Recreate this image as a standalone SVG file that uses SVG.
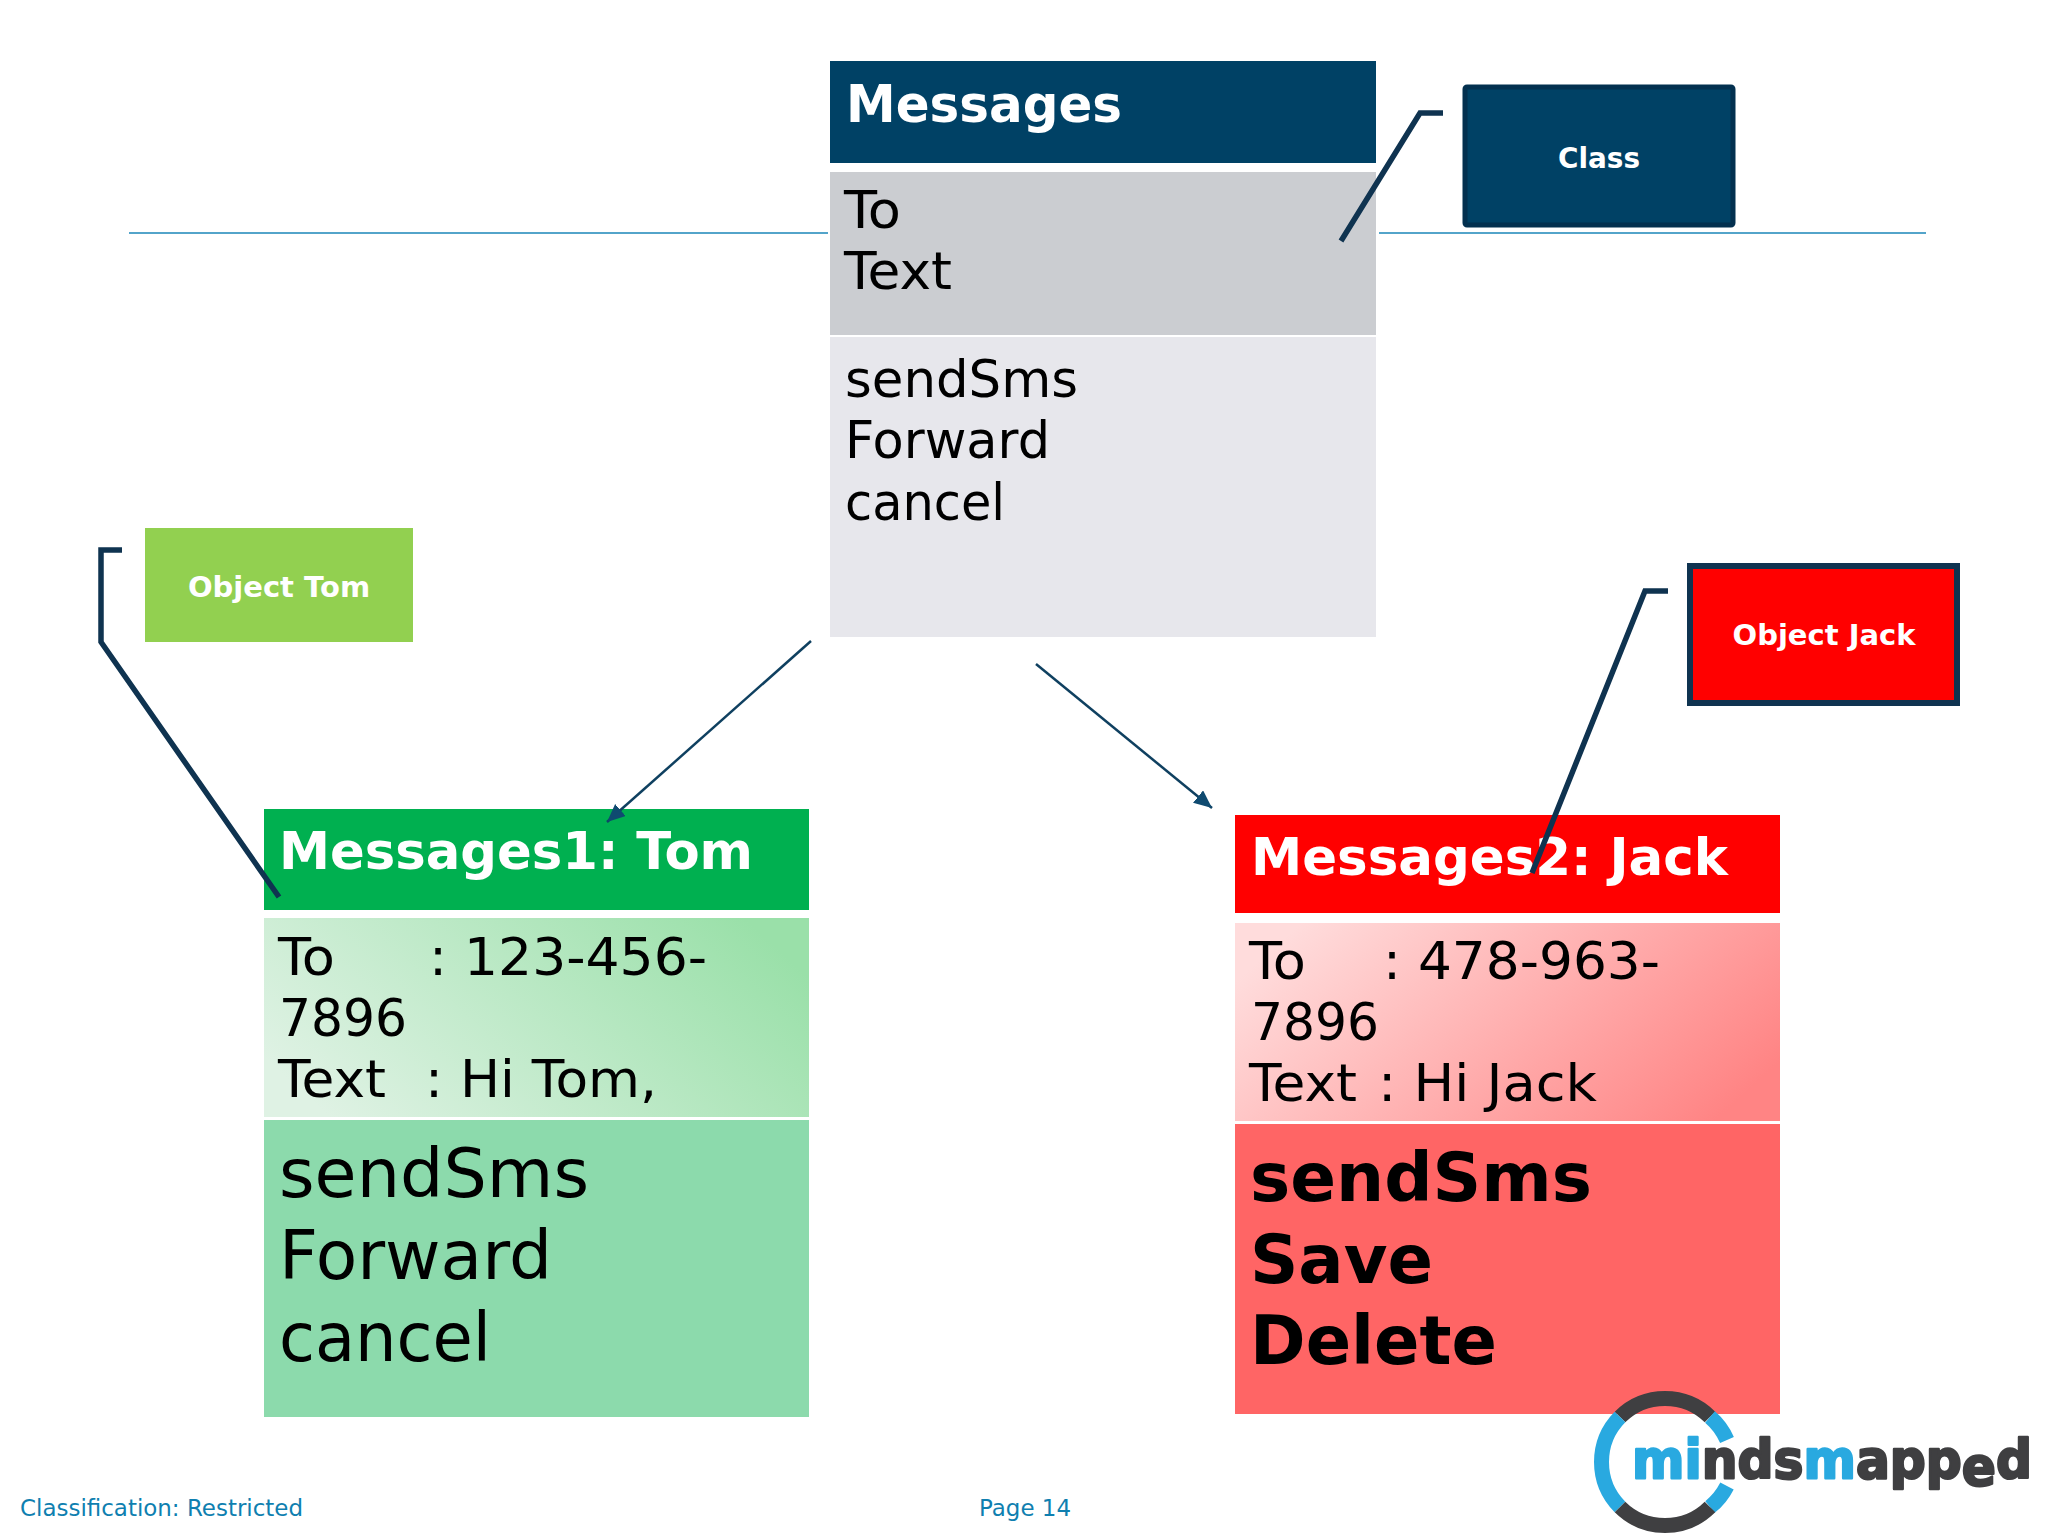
<svg xmlns="http://www.w3.org/2000/svg" width="2048" height="1536" viewBox="0 0 2048 1536">
<style>
text{font-family:"DejaVu Sans",sans-serif;lengthAdjust:spacingAndGlyphs}
.h{font-weight:bold;font-size:52px;fill:#fff}
.t{font-size:51px;fill:#000}
.big{font-size:68px;fill:#000}
.lab{font-weight:bold;font-size:29px;fill:#fff;text-anchor:middle}
.foot{font-size:23px;fill:#0f7fb0}
.call{fill:none;stroke:#0f3350;stroke-width:5.5}
.arr{fill:none;stroke:#0f4060;stroke-width:2.5;marker-end:url(#a)}
.rule{stroke:#1a86b8;stroke-width:1.5}
.lg{font-weight:bold;font-size:54px;stroke-width:2.5;stroke-linejoin:round}
.lb{fill:#29a9e0;stroke:#29a9e0}
.ld{fill:#3f3f41;stroke:#3f3f41}
</style>
<defs>
<marker id="a" markerUnits="userSpaceOnUse" markerWidth="20" markerHeight="18" refX="18" refY="8" orient="auto"><path d="M0 0L18 8L0 16Z" fill="#0f4a70"/></marker>
<linearGradient id="gg" x1="0" y1="0.7" x2="1" y2="0.3"><stop offset="0" stop-color="#dff2e4"/><stop offset="1" stop-color="#9ae0a9"/></linearGradient>
<linearGradient id="rg" x1="0" y1="0.3" x2="1" y2="0.7"><stop offset="0" stop-color="#ffdcdc"/><stop offset="1" stop-color="#ff8484"/></linearGradient>
</defs>
<rect width="2048" height="1536" fill="#fff"/>
<g id="rules"><line class="rule" x1="129" y1="233" x2="828" y2="233"/><line class="rule" x1="1379" y1="233" x2="1926" y2="233"/></g>
<g id="class-messages">
<rect x="830" y="61" width="546" height="102" fill="#004165"/>
<rect x="830" y="172" width="546" height="163" fill="#cbcdd1"/>
<rect x="830" y="337" width="546" height="300" fill="#e7e7ec"/>
<text class="h" x="846" y="122" textLength="276" lengthAdjust="spacingAndGlyphs">Messages</text>
<text class="t" x="844" y="228" textLength="57" lengthAdjust="spacingAndGlyphs">To</text><text class="t" x="844" y="289" textLength="108" lengthAdjust="spacingAndGlyphs">Text</text>
<text class="t" x="845" y="397" textLength="233" lengthAdjust="spacingAndGlyphs">sendSms</text><text class="t" x="845" y="458" textLength="205" lengthAdjust="spacingAndGlyphs">Forward</text><text class="t" x="845" y="520" textLength="160" lengthAdjust="spacingAndGlyphs">cancel</text>
</g>
<g id="object-tom">
<rect x="264" y="809" width="545" height="101" fill="#00b050"/>
<rect x="264" y="918" width="545" height="199" fill="url(#gg)"/>
<rect x="264" y="1120" width="545" height="297" fill="#8cdaac"/>
<text class="h" x="279" y="869" textLength="474" lengthAdjust="spacingAndGlyphs">Messages1: Tom</text>
<text class="t" x="278" y="975" textLength="57" lengthAdjust="spacingAndGlyphs">To</text><text class="t" x="429" y="975" textLength="278" lengthAdjust="spacingAndGlyphs">: 123-456-</text>
<text class="t" x="279" y="1036" textLength="128" lengthAdjust="spacingAndGlyphs">7896</text>
<text class="t" x="278" y="1097" textLength="108" lengthAdjust="spacingAndGlyphs">Text</text><text class="t" x="425" y="1097" textLength="232" lengthAdjust="spacingAndGlyphs">: Hi Tom,</text>
<text class="big" x="279" y="1197" textLength="310" lengthAdjust="spacingAndGlyphs">sendSms</text><text class="big" x="279" y="1279" textLength="273" lengthAdjust="spacingAndGlyphs">Forward</text><text class="big" x="279" y="1361" textLength="212" lengthAdjust="spacingAndGlyphs">cancel</text>
</g>
<g id="object-jack">
<rect x="1235" y="815" width="545" height="98" fill="#f00"/>
<rect x="1235" y="923" width="545" height="198" fill="url(#rg)"/>
<rect x="1235" y="1124" width="545" height="290" fill="#ff6565"/>
<text class="h" x="1251" y="875" textLength="477" lengthAdjust="spacingAndGlyphs">Messages2: Jack</text>
<text class="t" x="1249" y="979" textLength="57" lengthAdjust="spacingAndGlyphs">To</text><text class="t" x="1383" y="979" textLength="277" lengthAdjust="spacingAndGlyphs">: 478-963-</text>
<text class="t" x="1251" y="1040" textLength="128" lengthAdjust="spacingAndGlyphs">7896</text>
<text class="t" x="1249" y="1101" textLength="108" lengthAdjust="spacingAndGlyphs">Text</text><text class="t" x="1378" y="1101" textLength="219" lengthAdjust="spacingAndGlyphs">: Hi Jack</text>
<text class="big" x="1250" y="1201" font-weight="bold" textLength="342" lengthAdjust="spacingAndGlyphs">sendSms</text><text class="big" x="1250" y="1283" font-weight="bold" textLength="183" lengthAdjust="spacingAndGlyphs">Save</text><text class="big" x="1250" y="1364" font-weight="bold" textLength="247" lengthAdjust="spacingAndGlyphs">Delete</text>
</g>
<g id="label-class"><rect x="1465" y="87" width="268" height="138" rx="2" fill="#004165" stroke="#03304f" stroke-width="5"/><text class="lab" x="1599" y="168" textLength="82" lengthAdjust="spacingAndGlyphs">Class</text></g>
<g id="label-tom"><rect x="145" y="528" width="268" height="114" fill="#92d050"/><text class="lab" x="279" y="597">Object Tom</text></g>
<g id="label-jack"><rect x="1690" y="566" width="267" height="137" fill="#f00" stroke="#0f3350" stroke-width="6"/><text class="lab" x="1824" y="645">Object Jack</text></g>
<g id="connectors">
<polyline class="call" points="1443,113 1420,113 1341,241"/>
<polyline class="call" points="122,550 101,550 101,642 279,897"/>
<polyline class="call" points="1668,591 1645,591 1532,873"/>
<line class="arr" x1="811" y1="641" x2="607" y2="822"/>
<line class="arr" x1="1036" y1="664" x2="1212" y2="808"/>
</g>
<g id="footer"><text class="foot" x="20" y="1516" textLength="283" lengthAdjust="spacingAndGlyphs">Classification: Restricted</text><text class="foot" x="979" y="1516" textLength="92" lengthAdjust="spacingAndGlyphs">Page 14</text></g>
<g id="logo">
<g fill="none" stroke-width="15">
<path d="M1620 1417A64 64 0 0 1 1710 1417" stroke="#3f3f41"/>
<path d="M1710 1417A64 64 0 0 1 1727 1440M1620 1417A64 64 0 0 0 1620 1507M1727 1486A64 64 0 0 1 1710 1507" stroke="#29a9e0"/>
<path d="M1620 1507A64 64 0 0 0 1710 1507" stroke="#3f3f41"/>
</g>
<text class="lg" x="1632" y="1478" textLength="400" lengthAdjust="spacingAndGlyphs"><tspan class="lb">mi</tspan><tspan class="ld">nds</tspan><tspan class="lb">m</tspan><tspan class="ld">app</tspan><tspan class="ld" dy="7">e</tspan><tspan class="ld" dy="-7">d</tspan></text>
</g>
</svg>
